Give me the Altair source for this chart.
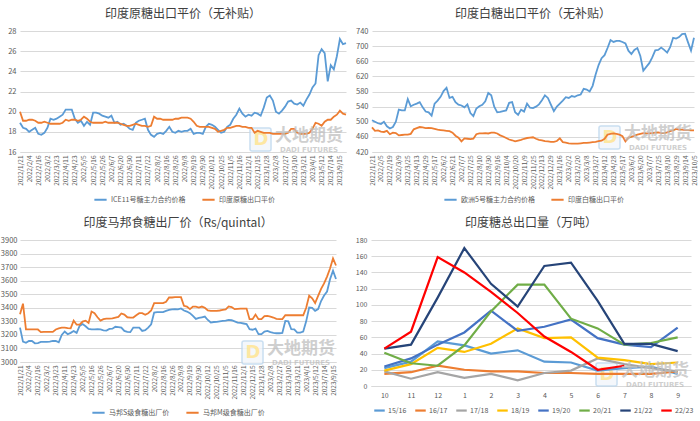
import altair as alt
import pandas as pd

FONT = "Noto Sans CJK SC"
GRAY = "#595959"
GRID = "#D9D9D9"
BLUE = "#5B9BD5"
ORANGE = "#ED7D31"

# ---------------- x-axis tick labels ----------------
labels_a = ["2022/1/21", "2022/2/4", "2022/2/16", "2022/3/2", "2022/3/23", "2022/4/11",
            "2022/4/23", "2022/5/5", "2022/5/16", "2022/5/26", "2022/6/7", "2022/6/20",
            "2022/6/30", "2022/7/11", "2022/7/22", "2022/8/2", "2022/8/16", "2022/8/26",
            "2022/9/8", "2022/9/19", "2022/9/30", "2022/10/12", "2022/10/25", "2022/11/5",
            "2022/11/16", "2022/12/1", "2022/12/15", "2023/1/28", "2023/2/8", "2023/2/27",
            "2023/3/10", "2023/3/21", "2023/4/1", "2023/5/12", "2023/7/14", "2023/9/15"]
labels_b = ["2022/1/21", "2022/2/5", "2022/2/19", "2022/3/9", "2022/3/25", "2022/4/13",
            "2022/4/29", "2022/5/17", "2022/6/2", "2022/6/21", "2022/7/7", "2022/7/25",
            "2022/8/10", "2022/8/30", "2022/9/16", "2022/10/4", "2022/10/20", "2022/11/9",
            "2022/11/25", "2022/12/13", "2022/12/29", "2023/1/16", "2023/2/2", "2023/2/20",
            "2023/3/8", "2023/3/27", "2023/4/12", "2023/4/28", "2023/5/17", "2023/6/2",
            "2023/6/20", "2023/7/7", "2023/7/25", "2023/8/10", "2023/8/29", "2023/9/14",
            "2023/10/5"]

# ---------------- panel 1: raw sugar ----------------
ice11 = [18.9, 18.4, 18.3, 18.0, 18.2, 18.4, 17.8, 17.7, 17.9, 18.4,
         19.3, 19.2, 19.3, 19.5, 19.7, 20.2, 20.2, 20.2, 19.3, 18.9,
         19.1, 18.6, 19.0, 18.7, 19.9, 19.9, 19.8, 19.6, 19.5, 19.4,
         19.6, 18.9, 19.0, 18.7, 18.8, 18.6, 18.3, 18.2, 18.9, 19.1,
         19.2, 19.3, 18.2, 17.7, 17.5, 17.8, 17.9, 17.8, 18.1, 18.5,
         18.0, 17.9, 18.1, 18.0, 18.1, 18.1, 18.3, 17.8, 17.9, 17.9,
         17.8, 18.5, 18.8, 18.7, 18.5, 18.2, 17.9, 18.0, 18.5, 18.7,
         19.3, 19.7, 20.3, 19.8, 19.5, 19.7, 19.6, 19.9, 19.8, 19.6,
         20.4, 21.4, 21.6, 21.1, 20.0, 19.8, 20.1, 20.5, 21.0, 21.1,
         20.8, 20.7, 20.9, 20.6, 21.2, 21.7, 22.4, 22.8, 25.6, 26.2,
         25.8, 23.0, 24.6, 24.2, 25.5, 27.2, 26.7, 26.8]
raw_parity = [20.0, 19.1, 19.1, 19.2, 19.2, 19.1, 18.9, 18.9, 19.0, 18.9,
              18.8, 18.8, 18.8, 18.8, 18.9, 19.2, 19.1, 19.2, 19.2, 19.1,
              19.2, 19.5, 19.3, 19.0, 18.9, 18.9, 18.9, 18.9, 19.0, 18.9,
              18.9, 18.9, 18.9, 18.8, 18.7, 18.6, 18.6, 18.7, 18.8, 18.7,
              18.6, 18.6, 18.5, 18.6, 19.5, 19.3, 19.3, 19.2, 19.2, 19.2,
              19.2, 19.3, 19.3, 19.4, 19.4, 19.4, 19.3, 19.0, 18.6, 18.5,
              18.5, 18.5, 18.5, 18.4, 18.3, 18.0, 18.1, 18.2, 18.4, 18.4,
              18.5, 18.6, 18.6, 18.5, 18.5, 18.4, 18.4, 17.9, 18.1, 18.0,
              17.9, 17.9, 17.9, 17.8, 17.8, 17.8, 17.8, 17.8, 17.9, 18.3,
              18.3, 17.9, 17.8, 17.8, 17.8, 17.9, 18.3, 18.9, 18.8, 18.6,
              19.0, 19.2, 19.2, 19.5, 19.7, 20.1, 19.8, 19.7]

# ---------------- panel 2: white sugar ----------------
eu5 = [504, 500, 496, 494, 500, 488, 482, 486, 500, 532,
       530, 530, 560, 541, 545, 548, 552, 538, 527, 525,
       516, 548, 556, 566, 581, 590, 563, 566, 552, 545,
       543, 538, 546, 523, 515, 535, 541, 545, 554, 576,
       570, 540, 525, 526, 528, 530, 550, 552, 525, 518,
       532, 527, 548, 537, 536, 540, 546, 557, 570, 563,
       545, 528, 540, 548, 556, 565, 563, 568, 566, 570,
       572, 587, 585, 580, 595, 625, 650, 668, 676, 695,
       716, 711, 714, 714, 711, 707, 688, 679, 690, 695,
       674, 635, 645, 655, 670, 689, 690, 696, 690, 683,
       697, 722, 720, 724, 732, 733, 710, 688, 722]
white_parity = [485, 476, 477, 474, 473, 476, 467, 471, 470, 464,
                465, 466, 466, 468, 480, 483, 486, 485, 483, 484,
                483, 481, 479, 478, 477, 476, 475, 471, 463, 458,
                448, 456, 455, 454, 455, 467, 469, 469, 470, 469,
                471, 471, 469, 464, 461, 457, 453, 451, 448, 450,
                452, 455, 457, 458, 459, 455, 452, 451, 449, 448,
                447, 447, 449, 456, 446, 445, 443, 442, 442, 442,
                443, 444, 444, 445, 446, 447, 449, 450, 455, 466,
                468, 469, 468, 466, 462, 448, 458, 460, 463, 466,
                468, 470, 469, 469, 470, 471, 472, 470, 470, 472,
                475, 477, 481, 479, 479, 478, 478, 477, 477]

# ---------------- panel 3: Maharashtra ex-mill ----------------
ms_s = [3254, 3150, 3142, 3155, 3155, 3138, 3140, 3148, 3148, 3148,
        3150, 3155, 3155, 3145, 3200, 3225, 3205, 3215, 3229, 3215,
        3266, 3280, 3264, 3244, 3240, 3240, 3242, 3240, 3234, 3232,
        3244, 3246, 3260, 3258, 3254, 3229, 3222, 3220, 3254, 3254,
        3254, 3229, 3235, 3254, 3278, 3365, 3368, 3368, 3368, 3377,
        3384, 3388, 3390, 3388, 3395, 3380, 3372, 3360, 3340, 3318,
        3325, 3330, 3335, 3310, 3291, 3295, 3296, 3300, 3303, 3305,
        3311, 3308, 3300, 3291, 3288, 3284, 3280, 3242, 3238, 3246,
        3205, 3205, 3225, 3229, 3220, 3215, 3212, 3212, 3214, 3303,
        3300, 3242, 3240, 3217, 3217, 3225, 3300, 3402, 3400, 3377,
        3390, 3450, 3490, 3520, 3610, 3673, 3612]
ms_m = [3353, 3430, 3240, 3240, 3240, 3240, 3240, 3220, 3222, 3222,
        3222, 3222, 3240, 3248, 3254, 3254, 3250, 3248, 3305, 3275,
        3275, 3298, 3305, 3288, 3372, 3360, 3330, 3305, 3316, 3320,
        3320, 3322, 3328, 3333, 3358, 3350, 3330, 3328, 3328, 3345,
        3360, 3360, 3348, 3360, 3380, 3434, 3434, 3434, 3434, 3444,
        3476, 3476, 3478, 3478, 3478, 3415, 3409, 3390, 3409, 3409,
        3402, 3409, 3400, 3380, 3377, 3377, 3377, 3380, 3385, 3388,
        3410, 3405, 3390, 3392, 3394, 3394, 3394, 3316, 3316, 3350,
        3316, 3316, 3338, 3340, 3335, 3328, 3318, 3316, 3316, 3345,
        3345, 3345, 3345, 3345, 3345, 3345, 3400, 3490, 3470, 3435,
        3488, 3540, 3580, 3630, 3690, 3764, 3712]

# ---------------- panel 4: monthly exports ----------------
months = ["10", "11", "12", "1", "2", "3", "4", "5", "6", "7", "8", "9"]
seasons = ["15/16", "16/17", "17/18", "18/19", "19/20", "20/21", "21/22", "22/23"]
season_colors = ["#5B9BD5", "#ED7D31", "#A5A5A5", "#FFC000", "#4472C4", "#70AD47", "#264478", "#FF0000"]
s1516 = [22, 30, 55, 50, 40, 44, 30, 29, 19, 22, 24, 15]
s1617 = [15, 17, 25, 20, 18, 18, 16, 16, 15, 15, 15, 18]
s1718 = [18, 9, 17, 10, 15, 7, 16, 19, 34, 27, 22, 18]
s1819 = [19, 27, 47, 42, 52, 71, 59, 60, 35, 32, 27, 29]
s1920 = [24, 34, 51, 66, 93, 68, 73, 82, 59, 51, 48, 72]
s2021 = [41, 28, 25, 50, 92, 125, 125, 83, 71, 51, 53, 60]
s2122 = [46, 51, 109, 170, 126, 98, 148, 152, 105, 52, 52, 43]
s2223 = [46, 67, 159, 140, 116, 90, 61, 42, 20, 25]
season_values = [s1516, s1617, s1718, s1819, s1920, s2021, s2122, s2223]


def title(text):
    return alt.TitleParams(text, font=FONT, fontSize=12, color="#404040",
                           fontWeight="normal", offset=6, anchor="middle")


def watermark(px, py):
    df = pd.DataFrame({"t": ["大地期货"], "u": ["DADI FUTURES"], "d": ["D"]})
    box = alt.Chart(df).mark_rect(fill="#F2F6FB", stroke="#BDD7EE", strokeWidth=1.5,
                                  opacity=0.8, cornerRadius=2).encode(
        x=alt.value(px - 59), x2=alt.value(px - 38), y=alt.value(py - 8), y2=alt.value(py + 15))
    d = alt.Chart(df).mark_text(font="DejaVu Sans", fontSize=18, fontWeight="bold",
                                color="#FFE699", opacity=0.9).encode(
        x=alt.value(px - 48), y=alt.value(py + 4), text="d:N")
    big = alt.Chart(df).mark_text(font=FONT, fontSize=17, fontWeight="bold",
                                  color="#BFBFBF", opacity=0.75).encode(
        x=alt.value(px), y=alt.value(py), text="t:N")
    small = alt.Chart(df).mark_text(font="DejaVu Sans", fontSize=7, fontWeight="bold",
                                    color="#BFBFBF", opacity=0.75).encode(
        x=alt.value(px), y=alt.value(py + 14), text="u:N")
    return [box, d, big, small]


def ts_panel(series, names, labels, step, ttl, ydom, ystep, w, h, lx, ly, colpad, wm, lpad=4):
    rows = []
    for name, vals in zip(names, series):
        for i, v in enumerate(vals):
            rows.append({"i": i, "v": v, "s": name})
    df = pd.DataFrame(rows)
    n = max(len(v) for v in series) - 1
    arr = "[" + ",".join("'%s'" % s for s in labels) + "]"
    x = alt.X("i:Q", scale=alt.Scale(domain=[0, n], nice=False, zero=False),
              axis=alt.Axis(values=list(range(0, step * len(labels), step)),
                            labelExpr=f"{arr}[round(datum.value/{step})]",
                            labelAngle=270, labelFontSize=6.5, grid=False, ticks=False,
                            domain=True, domainColor=GRID, title=None,
                            labelOverlap=False, labelPadding=3, labelBound=False))
    y = alt.Y("v:Q", scale=alt.Scale(domain=ydom, nice=False, zero=False),
              axis=alt.Axis(values=list(range(ydom[0], ydom[1] + 1, ystep)), grid=True,
                            gridColor=GRID, domain=False, ticks=False, title=None,
                            labelFontSize=7.5, labelPadding=lpad, format="d"))
    color = alt.Color("s:N", sort=names, scale=alt.Scale(domain=names, range=[BLUE, ORANGE]),
                      legend=alt.Legend(orient="none", legendX=lx, legendY=ly,
                                        direction="horizontal", columns=len(names), title=None,
                                        symbolType="stroke", symbolStrokeWidth=2,
                                        symbolSize=150, labelFontSize=7, columnPadding=colpad,
                                        labelOffset=3, padding=0))
    line = alt.Chart(df).mark_line(strokeWidth=1.8).encode(x=x, y=y, color=color, order="i:Q")
    return alt.layer(*watermark(*wm)[:2], line, *watermark(*wm)[2:]).properties(
        width=w, height=h, title=title(ttl))


p1 = ts_panel([ice11, raw_parity], ["ICE11号糖主力合约价格", "印度原糖出口平价"], labels_a, 3,
              "印度原糖出口平价（无补贴）", [16, 28], 2, 326, 121, 73, 161, 12, (289, 105))
p2 = ts_panel([eu5, white_parity], ["欧洲5号糖主力合约价格", "印度白糖出口平价"], labels_b, 3,
              "印度白糖出口平价（无补贴）", [420, 740], 40, 322, 121, 71, 161, 12, (286, 103))
p3 = ts_panel([ms_s, ms_m], ["马邦S级食糖出厂价", "马邦M级食糖出厂价"], labels_a, 3,
              "印度马邦食糖出厂价（Rs/quintal）", [3000, 3900], 100, 316, 122, 71, 165, 12,
              (281, 109), lpad=3)

rows4 = []
for s, vals in zip(seasons, season_values):
    for m, v in zip(months, vals):
        rows4.append({"m": m, "s": s, "v": v})
df4 = pd.DataFrame(rows4)
line4 = alt.Chart(df4).mark_line(strokeWidth=2.2).encode(
    x=alt.X("m:N", sort=months, scale=alt.Scale(type="point", padding=0.5),
            axis=alt.Axis(labelAngle=0, ticks=False, grid=False, domainColor=GRID,
                          labelFontSize=7, labelPadding=5, title=None)),
    y=alt.Y("v:Q", scale=alt.Scale(domain=[0, 180], nice=False),
            axis=alt.Axis(values=list(range(0, 181, 20)), grid=True, gridColor=GRID,
                          domain=False, ticks=False, title=None, labelFontSize=7,
                          labelPadding=4)),
    color=alt.Color("s:N", sort=seasons, scale=alt.Scale(domain=seasons, range=season_colors),
                    legend=alt.Legend(orient="none", legendX=2, legendY=164,
                                      direction="horizontal", columns=8, title=None,
                                      symbolType="stroke", symbolStrokeWidth=2.2,
                                      symbolSize=110, labelFontSize=7, columnPadding=3,
                                      labelOffset=2, padding=0)),
)
wm4 = watermark(284, 131)
p4 = alt.layer(*wm4[:2], line4, *wm4[2:]).properties(
    width=320, height=146, title=title("印度糖总出口量（万吨）"))

row1 = alt.hconcat(p1, p2, spacing=5).resolve_scale(color="independent").resolve_legend(color="independent")
row2 = alt.hconcat(p3, p4, spacing=15).resolve_scale(color="independent").resolve_legend(color="independent")
chart = alt.vconcat(row1, row2, spacing=13).resolve_scale(
    color="independent").resolve_legend(color="independent").properties(
    padding={"left": 0, "top": 8, "right": 0, "bottom": 0}, background="white"
).configure_view(stroke=None).configure_axis(
    labelFont=FONT, labelColor=GRAY
).configure_legend(labelFont=FONT, labelColor=GRAY)

chart.save("out.html", embed_options={"renderer": "svg", "actions": False})
